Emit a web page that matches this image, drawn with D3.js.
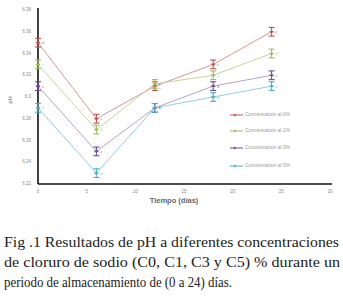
<!DOCTYPE html>
<html>
<head>
<meta charset="utf-8">
<script src="https://cdn.jsdelivr.net/npm/d3@7"></script>
<style>
body { margin: 0; background: #fff; }
svg { display: block; }
</style>
</head>
<body>
<div id="chart"></div>
<script>
// data
var days = [0, 6, 12, 18, 24];
var seriesNames = ["Concentración al 0%", "Concentración al 1%", "Concentración al 3%", "Concentración al 5%"];
var ph0 = [6.350, 6.280, 6.310, 6.330, 6.360];
var ph1 = [6.330, 6.270, 6.312, 6.320, 6.340];
var ph3 = [6.310, 6.250, 6.290, 6.310, 6.320];
var ph5 = [6.290, 6.230, 6.290, 6.300, 6.310];
var err = [0.004, 0.004, 0.004, 0.004];
var letters0 = ["d", "c", "b", "c", "e"];
var letters1 = ["c", "b", "b", "c", "d"];
var letters3 = ["c", "c", "b", "b", "c"];
var letters5 = ["c", "a", "b", "b", "c"];
var yTicks = [6.22, 6.24, 6.26, 6.28, 6.3, 6.32, 6.34, 6.36, 6.38];
var xTicks = [0, 5, 10, 15, 20, 25, 30];
var caption = ["Fig .1 Resultados de pH a diferentes concentraciones",
               "de cloruro de sodio (C0, C1, C3 y C5) % durante un",
               "periodo de almacenamiento de (0 a 24) días."];

var lineColors = ["#d99694", "#c3d69b", "#b3a2c7", "#93cddd"];
var markColors = ["#c0504d", "#9bbb59", "#6a4a9c", "#4bacc6"];
var allSeries = [ph0, ph1, ph3, ph5];
var allLetters = [letters0, letters1, letters3, letters5];

var width = 343, height = 298;
var svg = d3.select("#chart").append("svg")
    .attr("width", width).attr("height", height);

var x = d3.scaleLinear().domain([0, 30]).range([38, 330]);
var y = d3.scaleLinear().domain([6.22, 6.38]).range([184, 10]);

// axes lines
svg.append("line").attr("x1", x(0)).attr("x2", x(30) + 2)
    .attr("y1", y(6.22)).attr("y2", y(6.22))
    .style("stroke", "#111").style("stroke-width", 1.6);
svg.append("line").attr("x1", x(0)).attr("x2", x(0))
    .attr("y1", y(6.22)).attr("y2", y(6.38) - 2)
    .style("stroke", "#111").style("stroke-width", 1.6);

// tick labels
svg.selectAll("ytl").data(yTicks).enter().append("text")
    .attr("x", 31).attr("y", function(d) { return y(d); })
    .attr("text-anchor", "end").attr("dominant-baseline", "middle")
    .style("font-family", "Liberation Sans").style("font-size", "4.5px").style("fill", "#888")
    .text(function(d) { return d.toString(); });

svg.selectAll("xtl").data(xTicks).enter().append("text")
    .attr("x", function(d) { return x(d); }).attr("y", 193)
    .attr("text-anchor", "middle")
    .style("font-family", "Liberation Sans").style("font-size", "4.5px").style("fill", "#888")
    .text(function(d) { return d; });

// axis titles
svg.append("text").attr("x", 174).attr("y", 203).attr("text-anchor", "middle")
    .style("font-family", "Liberation Sans").style("font-size", "7.5px").style("font-weight", "bold")
    .style("fill", "#666").text("Tiempo (días)");
svg.append("text").attr("transform", "translate(12,100) rotate(-90)").attr("text-anchor", "middle")
    .style("font-family", "Liberation Sans").style("font-size", "6px").style("fill", "#666").text("pH");

// series
var line = d3.line().x(function(d, i) { return x(days[i]); }).y(function(d) { return y(d); });

allSeries.forEach(function(vals, s) {
    svg.append("path").datum(vals).attr("d", line)
        .style("fill", "none").style("stroke", lineColors[s]).style("stroke-width", 1);
});

allSeries.forEach(function(vals, s) {
    var g = svg.append("g").style("stroke", markColors[s]).style("stroke-width", 1.1);
    vals.forEach(function(v, i) {
        var cx = x(days[i]);
        g.append("line").attr("x1", cx).attr("x2", cx).attr("y1", y(v - err[s])).attr("y2", y(v + err[s]));
        g.append("line").attr("x1", cx - 3).attr("x2", cx + 3).attr("y1", y(v - err[s])).attr("y2", y(v - err[s]));
        g.append("line").attr("x1", cx - 3).attr("x2", cx + 3).attr("y1", y(v + err[s])).attr("y2", y(v + err[s]));
        g.append("path").attr("d", "M" + (cx - 2) + "," + y(v) + "L" + (cx + 2) + "," + y(v))
            .style("stroke-width", 1.6);
        // keep the letters of the two nearly equal day-12 points apart
        var dy = (s === 1 && i === 2) ? 5 : (s === 0 && i === 2 ? -2 : 0);
        svg.append("text").attr("x", cx + 4).attr("y", y(v) + 1.5 + dy)
            .style("font-family", "Liberation Serif").style("font-size", "4px").style("font-style", "italic")
            .style("fill", markColors[s]).text(allLetters[s][i]);
    });
});

// legend
var legY = [115, 131, 148, 166];
seriesNames.forEach(function(name, s) {
    svg.append("line").attr("x1", 230).attr("x2", 243).attr("y1", legY[s]).attr("y2", legY[s])
        .style("stroke", markColors[s]).style("stroke-width", 1);
    svg.append("path").attr("d", "M234," + (legY[s] - 1.5) + "L236.5," + legY[s] + "L234," + (legY[s] + 1.5) + "Z")
        .style("fill", markColors[s]);
    svg.append("text").attr("x", 245).attr("y", legY[s]).attr("dominant-baseline", "middle")
        .attr("textLength", 45).attr("lengthAdjust", "spacingAndGlyphs")
        .style("font-family", "Liberation Sans").style("font-size", "4.5px").style("fill", "#999")
        .text(name);
});

// caption
var capY = [247, 267, 287];
var capLen = [335, 336, 228];
caption.forEach(function(t, i) {
    svg.append("text").attr("x", 4).attr("y", capY[i])
        .attr("textLength", capLen[i]).attr("lengthAdjust", "spacingAndGlyphs")
        .style("font-family", "Liberation Serif").style("font-size", "15px").style("fill", "#222")
        .text(t);
});
</script>
</body>
</html>
